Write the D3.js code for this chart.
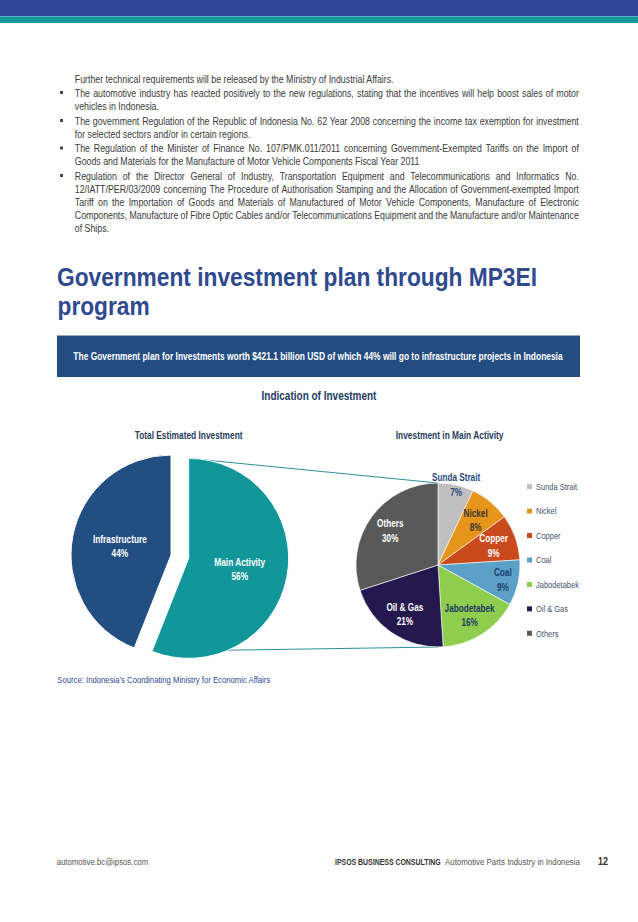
<!DOCTYPE html>
<html><head><meta charset="utf-8">
<script src="https://cdn.jsdelivr.net/npm/d3@7"></script>
<style>html,body{margin:0;padding:0;background:#fff;} svg{display:block;}</style>
</head><body>
<svg id="c" width="638" height="922"></svg>
<script>
// ---------------- DATA ----------------
const totalCategories = ["Main Activity", "Infrastructure"];
const totalValues = [56, 44];
const mainCategories = ["Sunda Strait", "Nickel", "Copper", "Coal", "Jabodetabek", "Oil & Gas", "Others"];
const mainValues = [7, 8, 9, 9, 16, 21, 30];

const paragraphLines = [
  "Further technical requirements will be released by the Ministry of Industrial Affairs.",
  "The automotive industry has reacted positively to the new regulations, stating that the incentives will help boost sales of motor",
  "vehicles in Indonesia.",
  "The government Regulation of the Republic of Indonesia No. 62 Year 2008 concerning the income tax exemption for investment",
  "for selected sectors and/or in certain regions.",
  "The Regulation of the Minister of Finance No. 107/PMK.011/2011 concerning Government-Exempted Tariffs on the Import of",
  "Goods and Materials for the Manufacture of Motor Vehicle Components Fiscal Year 2011",
  "Regulation of the Director General of Industry, Transportation Equipment and Telecommunications and Informatics No.",
  "12/IATT/PER/03/2009 concerning The Procedure of Authorisation Stamping and the Allocation of Government-exempted Import",
  "Tariff on the Importation of Goods and Materials of Manufactured of Motor Vehicle Components, Manufacture of Electronic",
  "Components, Manufacture of Fibre Optic Cables and/or Telecommunications Equipment and the Manufacture and/or Maintenance",
  "of Ships."
];
const lineJustified = [false, true, false, true, false, true, false, true, true, true, true, false];
const lineBulleted  = [false, true, false, true, false, true, false, true, false, false, false, false];

const titleLines = ["Government investment plan through MP3EI", "program"];
const bannerText = "The Government plan for Investments worth $421.1 billion USD of which 44% will go to infrastructure projects in Indonesia";
const chartTitle = "Indication of Investment";
const leftTitle = "Total Estimated Investment";
const rightTitle = "Investment in Main Activity";
const sourceText = "Source: Indonesia\u2019s Coordinating Ministry for Economic Affairs";
const footerLeft = "automotive.bc@ipsos.com";
const footerBrand = "IPSOS BUSINESS CONSULTING";
const footerDoc = "Automotive Parts Industry in Indonesia";
const pageNumber = "12";

// ---------------- STYLE ----------------
const FONT = "'Liberation Sans Narrow','Liberation Sans',Arial,sans-serif";
const totalColor = d3.scaleOrdinal().domain(totalCategories).range(["#11979a", "#234e82"]);
const mainColor = d3.scaleOrdinal().domain(mainCategories)
  .range(["#bfbfbf", "#e5951a", "#c94a1c", "#5ba0c6", "#8fcd4e", "#25184f", "#595959"]);
const mainLabelColor = d3.scaleOrdinal().domain(mainCategories)
  .range(["#2c4a7c", "#3a3530", "#ffffff", "#1f3f70", "#1f3864", "#ffffff", "#ffffff"]);

const svg = d3.select("#c");

function natWidth(s, size, weight, ws) {
  const t = svg.append("text").attr("font-family", FONT).attr("font-size", size)
    .attr("font-weight", weight || 400).style("word-spacing", (ws || 0) + "px").text(s);
  const w = t.node().getComputedTextLength();
  t.remove();
  return w;
}
// text drawn at its natural width and condensed horizontally with a scale transform
function txt(x, y, s, o = {}) {
  const size = o.size || 10, weight = o.weight || 400;
  const nat = natWidth(s, size, weight, o.wordSpacing);
  const k = o.width != null ? o.width / nat : (o.k != null ? o.k : 1);
  return svg.append("text")
    .attr("transform", `translate(${x},${y}) scale(${k},1)`)
    .attr("font-family", FONT)
    .attr("font-size", size)
    .attr("font-weight", weight)
    .attr("fill", o.fill || "#333")
    .attr("text-anchor", o.anchor || "start")
    .style("word-spacing", (o.wordSpacing || 0) + "px")
    .text(s);
}

// ---------------- HEADER BAND ----------------
svg.append("rect").attr("x", 0).attr("y", 0).attr("width", 638).attr("height", 16).attr("fill", "#2f4599");
svg.append("rect").attr("x", 0).attr("y", 16).attr("width", 638).attr("height", 7).attr("fill", "#16979a");
svg.append("rect").attr("x", 0).attr("y", 16).attr("width", 638).attr("height", 1).attr("fill", "#4fb3b5");

// ---------------- PARAGRAPH ----------------
const pSize = 10, pLeft = 74.8, pRight = 580;
const kP = 319.5 / natWidth(paragraphLines[0], pSize);
const lineY = [82.5, 96.5, 109.5, 124.5, 137.5, 152, 165, 179.5, 192.5, 206, 219, 232];
paragraphLines.forEach((line, i) => {
  const y = lineY[i];
  if (lineBulleted[i]) {
    svg.append("rect").attr("x", 60).attr("y", y - 5.5).attr("width", 3).attr("height", 3).attr("fill", "#3b4a6b");
  }
  if (!lineJustified[i]) {
    txt(pLeft, y, line, { size: pSize, fill: "#3a3a3a", k: kP });
  } else {
    const nSpaces = line.split(" ").length - 1;
    const nat = natWidth(line, pSize);
    const extra = ((pRight - pLeft) / kP - nat) / nSpaces;
    txt(pLeft, y, line, { size: pSize, fill: "#3a3a3a", k: kP, wordSpacing: extra });
  }
});

// ---------------- TITLE ----------------
const tSize = 26.3;
const kT = 480 / natWidth(titleLines[0], tSize, 700);
txt(57, 285.5, titleLines[0], { size: tSize, weight: 700, fill: "#2f4a8e", k: kT });
txt(57.5, 315, titleLines[1], { size: tSize, weight: 700, fill: "#2f4a8e", k: kT });

// ---------------- BANNER ----------------
svg.append("rect").attr("x", 57).attr("y", 335.5).attr("width", 523).attr("height", 41.5).attr("fill", "#234c80");
txt(318, 360, bannerText, { size: 10.5, weight: 700, fill: "#ffffff", anchor: "middle", width: 490 });

// ---------------- CHART TITLES ----------------
txt(319, 399.5, chartTitle, { size: 12, weight: 700, fill: "#243c63", anchor: "middle", width: 115 });
txt(188.6, 438.5, leftTitle, { size: 10, weight: 700, fill: "#2a3d5e", anchor: "middle", width: 108 });
txt(449.6, 438.5, rightTitle, { size: 10, weight: 700, fill: "#2a3d5e", anchor: "middle", width: 108 });

// ---------------- LEFT PIE ----------------
const L = { cx: 171, cy: 555, r: 100, explode: 18 };
const R = { cx: 438, cy: 565, r: 82 };
const pieL = d3.pie().sort(null).value(d => d.v).startAngle(0);
const arcsL = pieL(totalCategories.map((c, i) => ({ c, v: totalValues[i] })));
const arcL = d3.arc().innerRadius(0).outerRadius(L.r);
const offsetOf = a => {
  if (a.data.c !== "Main Activity") return [0, 0];
  const m = (a.startAngle + a.endAngle) / 2;
  return [L.explode * Math.sin(m), -L.explode * Math.cos(m)];
};

// connector lines (drawn first)
const main = arcsL[0];
const [mox, moy] = offsetOf(main);
const pt = (cx, cy, r, a) => [cx + r * Math.sin(a), cy - r * Math.cos(a)];
const p1 = pt(L.cx + mox, L.cy + moy, L.r, main.startAngle);
const p2 = pt(L.cx + mox, L.cy + moy, L.r, main.endAngle);
const q1 = pt(R.cx, R.cy, R.r, 0);
const q2 = pt(R.cx, R.cy, R.r, Math.PI);
[[p1, q1], [p2, q2]].forEach(([a, b]) => {
  svg.append("line").attr("x1", a[0]).attr("y1", a[1]).attr("x2", b[0]).attr("y2", b[1])
    .attr("stroke", "#2b9097").attr("stroke-width", 1);
});

const gL = svg.append("g");
gL.selectAll("path").data(arcsL).join("path")
  .attr("transform", d => { const o = offsetOf(d); return `translate(${L.cx + o[0]},${L.cy + o[1]})`; })
  .attr("d", arcL)
  .attr("fill", d => totalColor(d.data.c))
  .attr("stroke", "#ffffff").attr("stroke-width", 1);

const lblArcL = d3.arc().innerRadius(L.r * 0.52).outerRadius(L.r * 0.52);
const kL = 54 / natWidth("Infrastructure", 10, 700);
arcsL.forEach(a => {
  const o = offsetOf(a);
  const [x, y] = lblArcL.centroid(a);
  const cx = L.cx + o[0] + x, cy = L.cy + o[1] + y;
  txt(cx, cy - 2, a.data.c, { size: 10, weight: 700, fill: "#ffffff", anchor: "middle", k: kL });
  txt(cx, cy + 11.5, a.data.v + "%", { size: 10, weight: 700, fill: "#ffffff", anchor: "middle", k: kL });
});

// ---------------- RIGHT PIE ----------------
const pieR = d3.pie().sort(null).value(d => d.v).startAngle(0);
const arcsR = pieR(mainCategories.map((c, i) => ({ c, v: mainValues[i] })));
const arcR = d3.arc().innerRadius(0).outerRadius(R.r);
const gR = svg.append("g").attr("transform", `translate(${R.cx},${R.cy})`);
gR.selectAll("path").data(arcsR).join("path")
  .attr("d", arcR)
  .attr("fill", d => mainColor(d.data.c))
  .attr("stroke", "#ffffff").attr("stroke-width", 0.6);

const kR = 48.3 / natWidth("Sunda Strait", 10.5, 700);
const labelRadius = c => c === "Sunda Strait" ? R.r * 1.01 : (c === "Coal" ? R.r * 0.81 : R.r * 0.72);
arcsR.forEach(a => {
  const m = (a.startAngle + a.endAngle) / 2;
  const rr = labelRadius(a.data.c);
  const [x, y] = pt(R.cx, R.cy, rr, m);
  const col = mainLabelColor(a.data.c);
  txt(x, y - 3, a.data.c, { size: 10.5, weight: 700, fill: col, anchor: "middle", k: kR });
  txt(x, y + 11.5, a.data.v + "%", { size: 10.5, weight: 700, fill: col, anchor: "middle", k: kR });
});

// legend
const kLeg = 41.3 / natWidth("Sunda Strait", 9);
const legY = d3.scalePoint().domain(mainCategories).range([486.7, 633.3]);
mainCategories.forEach(c => {
  const y = legY(c);
  svg.append("rect").attr("x", 527).attr("y", y - 2.5).attr("width", 5).attr("height", 5).attr("fill", mainColor(c));
  txt(536, y + 3.2, c, { size: 9, fill: "#44546a", k: kLeg });
});

// ---------------- SOURCE & FOOTER ----------------
txt(57.3, 683, sourceText, { size: 8.5, fill: "#2f4a8e", width: 213.4 });
txt(56.7, 865, footerLeft, { size: 9, fill: "#555555", width: 91.6 });
txt(335, 864.5, footerBrand, { size: 9, weight: 700, fill: "#333333", width: 106 });
txt(445, 864.5, footerDoc, { size: 9, fill: "#555555", width: 135 });
txt(598, 864.5, pageNumber, { size: 10, weight: 700, fill: "#333333", width: 10 });
</script>
</body></html>
